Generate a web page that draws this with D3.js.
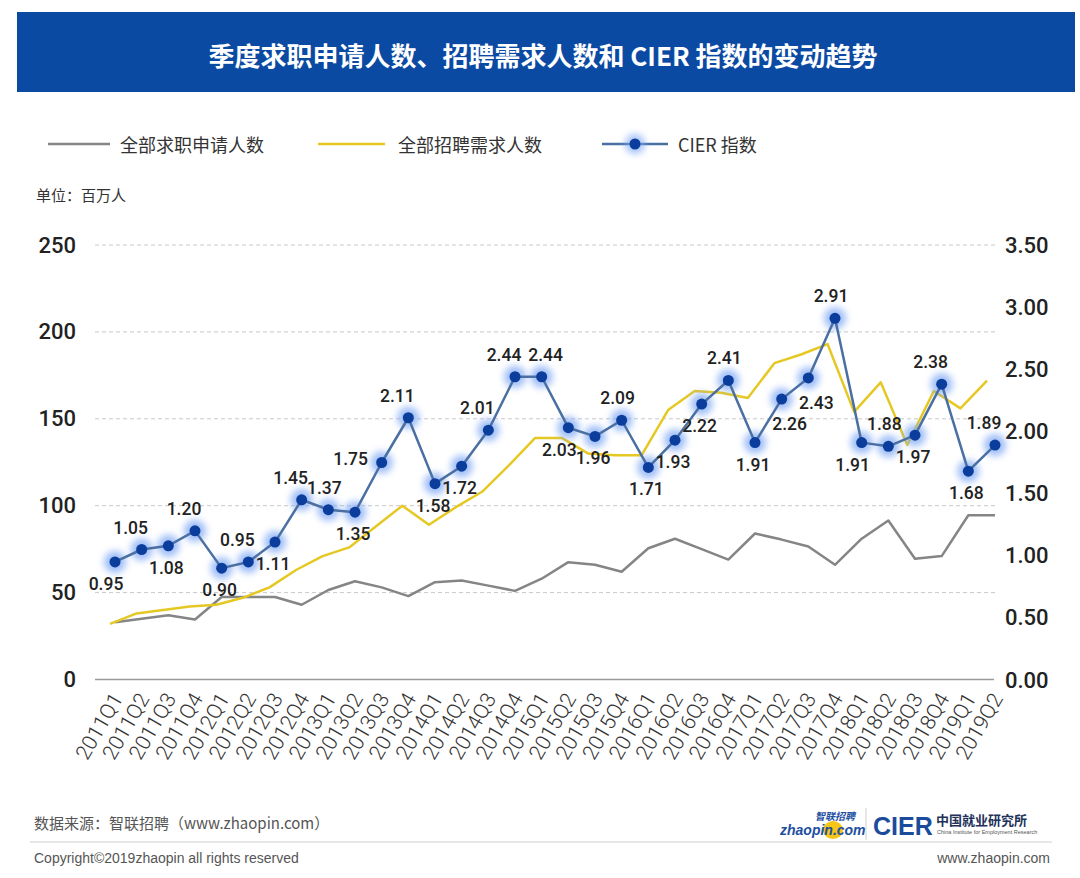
<!DOCTYPE html>
<html><head><meta charset="utf-8">
<script src="https://cdn.jsdelivr.net/npm/d3@7/dist/d3.min.js"></script>
<style>body{margin:0;background:#fff;} svg{display:block;}</style>
</head><body>
<svg id="chart" width="1080" height="878"></svg>
<script>
// ---------- data ----------
const quarters = ["2011Q1","2011Q2","2011Q3","2011Q4","2012Q1","2012Q2","2012Q3","2012Q4",
  "2013Q1","2013Q2","2013Q3","2013Q4","2014Q1","2014Q2","2014Q3","2014Q4",
  "2015Q1","2015Q2","2015Q3","2015Q4","2016Q1","2016Q2","2016Q3","2016Q4",
  "2017Q1","2017Q2","2017Q3","2017Q4","2018Q1","2018Q2","2018Q3","2018Q4",
  "2019Q1","2019Q2"];
// 全部求职申请人数 (百万人)
const applicants = [33,35,37,34.5,47.5,47.5,47.5,43,51.5,56.5,53,48,56,57,54,51,
  58,67.5,66,62,75.5,81,75,69,84,80.5,76.5,66,81,91.5,69.5,71,94.5,94.5];
// 全部招聘需求人数 (百万人)
const demand = [32,38,40,42,43,47,53,63,71,76,88,100,89,99,108,123,
  139,139,130,129,129,155,166,165,162,182,187,193,154,171,135,166,156,172];
// CIER 指数
const cier = [0.95,1.05,1.08,1.20,0.90,0.95,1.11,1.45,1.37,1.35,1.75,2.11,1.58,1.72,2.01,2.44,
  2.44,2.03,1.96,2.09,1.71,1.93,2.22,2.41,1.91,2.26,2.43,2.91,1.91,1.88,1.97,2.38,1.68,1.89];
// where each CIER value label sits relative to its point
const cierLabelPos = ["bl","al","b","al","b","al","b","al","a","b","l","al","b","b","al","al",
  "ar","bl","b","a","b","b","b","a","b","br","br","a","bl","a","b","al","b","al"];
const leftTicks = [0,50,100,150,200,250];
const rightTicks = [0,0.5,1,1.5,2,2.5,3,3.5];
const seriesNames = ["全部求职申请人数","全部招聘需求人数","CIER 指数"];
const titleText = "季度求职申请人数、招聘需求人数和 CIER 指数的变动趋势";

// ---------- setup ----------
const svg = d3.select("#chart");
const CJK = "'Noto Sans CJK SC','Noto Sans',sans-serif";
const NUM = "Roboto,'Noto Sans',sans-serif";
const C_GRAY = "#858585", C_YEL = "#e6c824", C_LINE = "#4a6fa3", C_DOT = "#0b3d9c";

const defs = svg.append("defs");
const f = defs.append("filter").attr("id","glow").attr("x","-100%").attr("y","-100%").attr("width","300%").attr("height","300%");
f.append("feGaussianBlur").attr("stdDeviation",3.5);

// banner
svg.append("rect").attr("x",17).attr("y",12).attr("width",1058).attr("height",80).attr("fill","#0b4aa3");
svg.append("text").attr("x",543).attr("y",54).attr("text-anchor","middle").attr("dominant-baseline","central")
  .attr("fill","#fff").attr("font-family",CJK).attr("font-size",26).attr("font-weight",700).text(titleText);

// legend
const lg = svg.append("g").attr("font-family",CJK).attr("font-size",18).attr("fill","#333");
const legendItems = [
  {x1:48,x2:110,tx:120,color:C_GRAY,dot:false},
  {x1:318,x2:385,tx:398,color:C_YEL,dot:false},
  {x1:602,x2:668,tx:678,color:C_LINE,dot:true}];
legendItems.forEach((it,i)=>{
  lg.append("line").attr("x1",it.x1).attr("x2",it.x2).attr("y1",144).attr("y2",144)
    .attr("stroke",it.color).attr("stroke-width",2.5);
  if(it.dot){
    const cx=(it.x1+it.x2)/2;
    lg.append("circle").attr("cx",cx).attr("cy",144).attr("r",10).attr("fill","#7fa8f5").attr("opacity",0.7).attr("filter","url(#glow)");
    lg.append("circle").attr("cx",cx).attr("cy",144).attr("r",5.5).attr("fill",C_DOT);
  }
  lg.append("text").attr("x",it.tx).attr("y",144).attr("dominant-baseline","central").text(seriesNames[i]);
});
svg.append("text").attr("x",36).attr("y",194).attr("dominant-baseline","central")
  .attr("font-family",CJK).attr("font-size",15).attr("fill","#333").text("单位：百万人");

// scales
const yL = d3.scaleLinear().domain([0,250]).range([679.5,245]);
const yR = d3.scaleLinear().domain([0,3.5]).range([680,245]);
const x = d3.scalePoint().domain(quarters).range([115,995]);
const xD = d3.scalePoint().domain(quarters).range([110,987]);

// gridlines
svg.append("g").selectAll("line").data(leftTicks.filter(d=>d>0)).join("line")
  .attr("x1",95).attr("x2",995).attr("y1",d=>yL(d)).attr("y2",d=>yL(d))
  .attr("stroke","#c8c8c8").attr("stroke-width",1).attr("stroke-dasharray","4,3");
svg.append("line").attr("x1",95).attr("x2",994).attr("y1",yL(0)).attr("y2",yL(0))
  .attr("stroke","#9a9a9a").attr("stroke-width",1.5);

// left axis
const gl = svg.append("g").attr("transform","translate(76,0)")
  .call(d3.axisLeft(yL).tickValues(leftTicks).tickSize(0).tickPadding(0));
gl.select(".domain").remove();
gl.selectAll("text").attr("font-family",NUM).attr("font-size",22).attr("font-weight",500).attr("fill","#222");

// right axis
const gr = svg.append("g").attr("transform","translate(1005,0)")
  .call(d3.axisRight(yR).tickValues(rightTicks).tickFormat(d3.format(".2f")).tickSize(0).tickPadding(0));
gr.select(".domain").remove();
gr.selectAll("text").attr("font-family",NUM).attr("font-size",22).attr("font-weight",500).attr("fill","#222");

// bottom axis
const gb = svg.append("g").attr("transform",`translate(0,${yL(0)})`)
  .call(d3.axisBottom(x).tickSize(0).tickPadding(0));
gb.select(".domain").remove();
gb.selectAll("text").attr("font-family",NUM).attr("font-size",21).attr("font-weight",300).attr("fill","#333")
  .attr("text-anchor","end").attr("x",0).attr("y",0).attr("dy",0)
  .attr("transform","translate(8,19) rotate(-60)");

// lines
svg.append("path").datum(applicants)
  .attr("d",d3.line().x((d,i)=>x(quarters[i])).y(d=>yL(d)))
  .attr("fill","none").attr("stroke",C_GRAY).attr("stroke-width",2.5).attr("stroke-linejoin","round");
svg.append("path").datum(demand)
  .attr("d",d3.line().x((d,i)=>xD(quarters[i])).y(d=>yL(d)))
  .attr("fill","none").attr("stroke",C_YEL).attr("stroke-width",2.5).attr("stroke-linejoin","round");

// CIER glow, line, dots
svg.append("g").selectAll("circle").data(cier).join("circle")
  .attr("cx",(d,i)=>x(quarters[i])).attr("cy",d=>yR(d)).attr("r",11)
  .attr("fill","#7fa8f5").attr("opacity",0.75).attr("filter","url(#glow)");
svg.append("path").datum(cier)
  .attr("d",d3.line().x((d,i)=>x(quarters[i])).y(d=>yR(d)))
  .attr("fill","none").attr("stroke",C_LINE).attr("stroke-width",2.5).attr("stroke-linejoin","round");
svg.append("g").selectAll("circle").data(cier).join("circle")
  .attr("cx",(d,i)=>x(quarters[i])).attr("cy",d=>yR(d)).attr("r",5.5).attr("fill",C_DOT);

// CIER labels
const off = {a:[-4,-22], ar:[4,-22], al:[-11,-22], b:[-2,22], bl:[-9,22], br:[8,25], l:[-31,-4]};
svg.append("g").selectAll("text").data(cier).join("text")
  .attr("x",(d,i)=>x(quarters[i])+off[cierLabelPos[i]][0])
  .attr("y",(d,i)=>yR(d)+off[cierLabelPos[i]][1])
  .attr("text-anchor","middle").attr("dominant-baseline","central")
  .attr("font-family",NUM).attr("font-size",17.5).attr("font-weight",500).attr("fill","#222")
  .text(d=>d3.format(".2f")(d));

// footer
const ft = svg.append("g").attr("font-family",CJK).attr("fill","#555");
ft.append("text").attr("x",34).attr("y",822).attr("dominant-baseline","central").attr("font-size",15)
  .text("数据来源：智联招聘（www.zhaopin.com）");
ft.append("line").attr("x1",30).attr("x2",1052).attr("y1",842).attr("y2",842).attr("stroke","#cfcfcf").attr("stroke-width",1);
ft.append("text").attr("x",34).attr("y",858).attr("dominant-baseline","central").attr("font-size",14)
  .attr("font-family","'Liberation Sans',Arial,sans-serif").text("Copyright©2019zhaopin all rights reserved");
ft.append("text").attr("x",1050).attr("y",858).attr("text-anchor","end").attr("dominant-baseline","central").attr("font-size",14)
  .attr("font-family","'Liberation Sans',Arial,sans-serif").text("www.zhaopin.com");

// logos
const lo = svg.append("g");
lo.append("ellipse").attr("cx",833).attr("cy",830).attr("rx",10).attr("ry",9).attr("fill","#f5c518");
lo.append("text").attr("x",780).attr("y",830).attr("dominant-baseline","central").attr("font-family","'Liberation Sans',Arial,sans-serif")
  .attr("font-size",14).attr("font-weight",700).attr("font-style","italic").attr("fill","#1d4fa0").text("zhaopin.com");
lo.append("text").attr("x",815).attr("y",815).attr("dominant-baseline","central").attr("font-family",CJK)
  .attr("font-size",10).attr("font-weight",700).attr("font-style","italic").attr("fill","#1d4fa0").text("智联招聘");
lo.append("line").attr("x1",866).attr("x2",866).attr("y1",808).attr("y2",840).attr("stroke","#d0d0d0");
lo.append("text").attr("x",873).attr("y",826).attr("dominant-baseline","central").attr("font-family","'Liberation Sans',Arial,sans-serif")
  .attr("font-size",25).attr("font-weight",700).attr("fill","#1b4c9c").text("CIER");
lo.append("text").attr("x",936).attr("y",819).attr("dominant-baseline","central").attr("font-family",CJK)
  .attr("font-size",13).attr("font-weight",700).attr("fill","#22325a").text("中国就业研究所");
lo.append("text").attr("x",937).attr("y",832).attr("dominant-baseline","central").attr("font-family","'Liberation Sans',Arial,sans-serif")
  .attr("font-size",5.5).attr("fill","#555").text("China Institute for Employment Research");
</script>
</body></html>
